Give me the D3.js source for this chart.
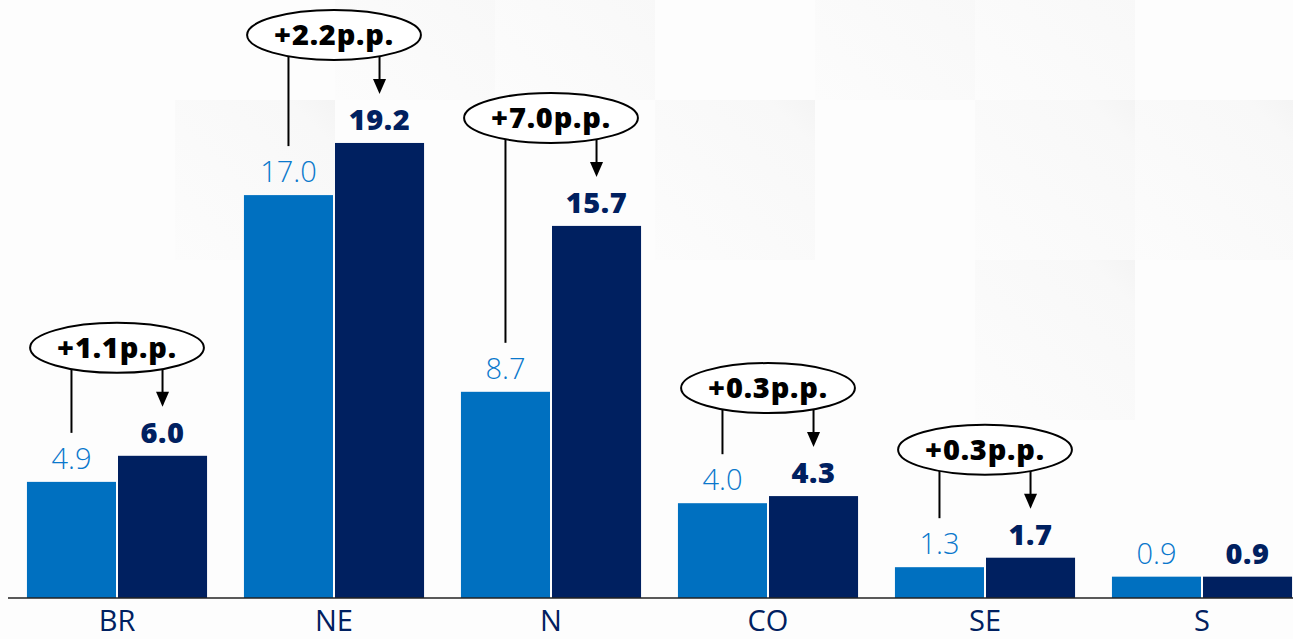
<!DOCTYPE html>
<html>
<head>
<meta charset="utf-8">
<script src="https://cdn.jsdelivr.net/npm/d3@7/dist/d3.min.js"></script>
<style>
  html, body { margin: 0; padding: 0; background: #fdfdfd; }
  svg { display: block; }
</style>
</head>
<body>
<svg id="chart" width="1293" height="639"></svg>
<script>
// Regions and the two periods being compared (percent)
const categories = ["BR", "NE", "N", "CO", "SE", "S"];
const valuesBefore = [4.9, 17.0, 8.7, 4.0, 1.3, 0.9];
const valuesAfter = [6.0, 19.2, 15.7, 4.3, 1.7, 0.9];
// Change between the periods, in percentage points (null = no callout)
const changeLabels = ["+1.1p.p.", "+2.2p.p.", "+7.0p.p.", "+0.3p.p.", "+0.3p.p.", null];

// Faint background tiles: [column, row] on a 160px grid
const bgTiles = [[2, 0], [3, 0], [5, 0], [6, 0], [1, 1], [4, 1], [6, 1], [7, 1], [6, 2]];

const W = 1293, H = 639;
const baseY = 598;
const colorBefore = "#0070c0";
const colorAfter = "#002060";
const fontFamily = "'Open Sans', 'Noto Sans', sans-serif";

const svg = d3.select("#chart");

// ---- background tiles ----
const defs = svg.append("defs");
const grad = defs.append("linearGradient")
  .attr("id", "tileGrad").attr("x1", "0").attr("y1", "1").attr("x2", "1").attr("y2", "0");
grad.append("stop").attr("offset", "0%").attr("stop-color", "#fcfcfc");
grad.append("stop").attr("offset", "85%").attr("stop-color", "#f8f8f8");
grad.append("stop").attr("offset", "100%").attr("stop-color", "#f4f4f4");

svg.append("rect").attr("width", W).attr("height", H).attr("fill", "#fdfdfd");
svg.append("g").selectAll("rect").data(bgTiles).join("rect")
  .attr("x", d => 15 + d[0] * 160)
  .attr("y", d => -60 + d[1] * 160)
  .attr("width", 160).attr("height", 160)
  .attr("fill", "url(#tileGrad)");

// ---- scales ----
const x = d3.scaleBand()
  .domain(categories)
  .range([8.5, 1310.5])
  .paddingInner(0.17)
  .paddingOuter(0.085);

const xSub = d3.scaleBand()
  .domain(["before", "after"])
  .range([0, x.bandwidth()])
  .paddingInner(0.022);

const y = d3.scaleLinear().domain([0, 25]).range([baseY, 5.5]);

const rows = categories.map((c, i) => ({
  cat: c, before: valuesBefore[i], after: valuesAfter[i], change: changeLabels[i]
}));

// ---- bars ----
const groups = svg.append("g").selectAll("g").data(rows).join("g")
  .attr("transform", d => `translate(${x(d.cat)},0)`);

groups.append("rect")
  .attr("x", xSub("before"))
  .attr("y", d => y(d.before))
  .attr("width", xSub.bandwidth())
  .attr("height", d => baseY - y(d.before))
  .attr("fill", colorBefore);

groups.append("rect")
  .attr("x", xSub("after"))
  .attr("y", d => y(d.after))
  .attr("width", xSub.bandwidth())
  .attr("height", d => baseY - y(d.after))
  .attr("fill", colorAfter);

// ---- value labels ----
groups.append("text")
  .attr("x", xSub("before") + xSub.bandwidth() / 2)
  .attr("y", d => y(d.before) - 13)
  .attr("text-anchor", "middle")
  .attr("font-family", fontFamily)
  .attr("font-weight", 300)
  .attr("font-size", 29)
  .attr("fill", "#0a78cc")
  .text(d => d.before.toFixed(1));

groups.append("text")
  .attr("x", xSub("after") + xSub.bandwidth() / 2)
  .attr("y", d => y(d.after) - 13)
  .attr("text-anchor", "middle")
  .attr("font-family", fontFamily)
  .attr("font-weight", 800)
  .attr("font-size", 29)
  .attr("letter-spacing", 0.5)
  .attr("fill", colorAfter)
  .text(d => d.after.toFixed(1));

// ---- change callouts: line from the first bar, arrow to the second ----
const callouts = groups.filter(d => d.change);
const cyOf = d => y(d.after) - 108;

callouts.append("line")
  .attr("x1", xSub("before") + xSub.bandwidth() / 2)
  .attr("x2", xSub("before") + xSub.bandwidth() / 2)
  .attr("y1", cyOf)
  .attr("y2", d => y(d.before) - 49)
  .attr("stroke", "#000").attr("stroke-width", 2);

const ax = xSub("after") + xSub.bandwidth() / 2;
callouts.append("line")
  .attr("x1", ax).attr("x2", ax)
  .attr("y1", cyOf)
  .attr("y2", d => y(d.after) - 62)
  .attr("stroke", "#000").attr("stroke-width", 2);

callouts.append("path")
  .attr("d", d => {
    const tip = y(d.after) - 49;
    return `M${ax - 6.5},${tip - 15}L${ax + 6.5},${tip - 15}L${ax},${tip}Z`;
  })
  .attr("fill", "#000");

callouts.append("ellipse")
  .attr("cx", x.bandwidth() / 2)
  .attr("cy", cyOf)
  .attr("ry", 25)
  .attr("fill", "#fff")
  .attr("stroke", "#000")
  .attr("stroke-width", 2);

const ctext = callouts.append("text")
  .attr("x", x.bandwidth() / 2)
  .attr("y", d => cyOf(d) + 10)
  .attr("text-anchor", "middle")
  .attr("font-family", fontFamily)
  .attr("font-weight", 800)
  .attr("font-size", 29)
  .attr("letter-spacing", 0.8)
  .attr("fill", "#000")
  .text(d => d.change);

ctext.each(function () {
  const w = this.getComputedTextLength();
  d3.select(this.parentNode).select("ellipse").attr("rx", w / 2 + 27);
});

// ---- axis ----
const axis = svg.append("g")
  .attr("transform", `translate(0,${baseY})`)
  .call(d3.axisBottom(x).tickSize(0).tickPadding(12));
axis.select(".domain")
  .attr("d", `M8,0H${W}`)
  .attr("stroke", "#222")
  .attr("stroke-width", 1.6);
axis.selectAll(".tick text")
  .attr("font-family", fontFamily)
  .attr("font-weight", 400)
  .attr("font-size", 29)
  .attr("fill", colorAfter)
  .attr("dy", "0.71em");
</script>
</body>
</html>
